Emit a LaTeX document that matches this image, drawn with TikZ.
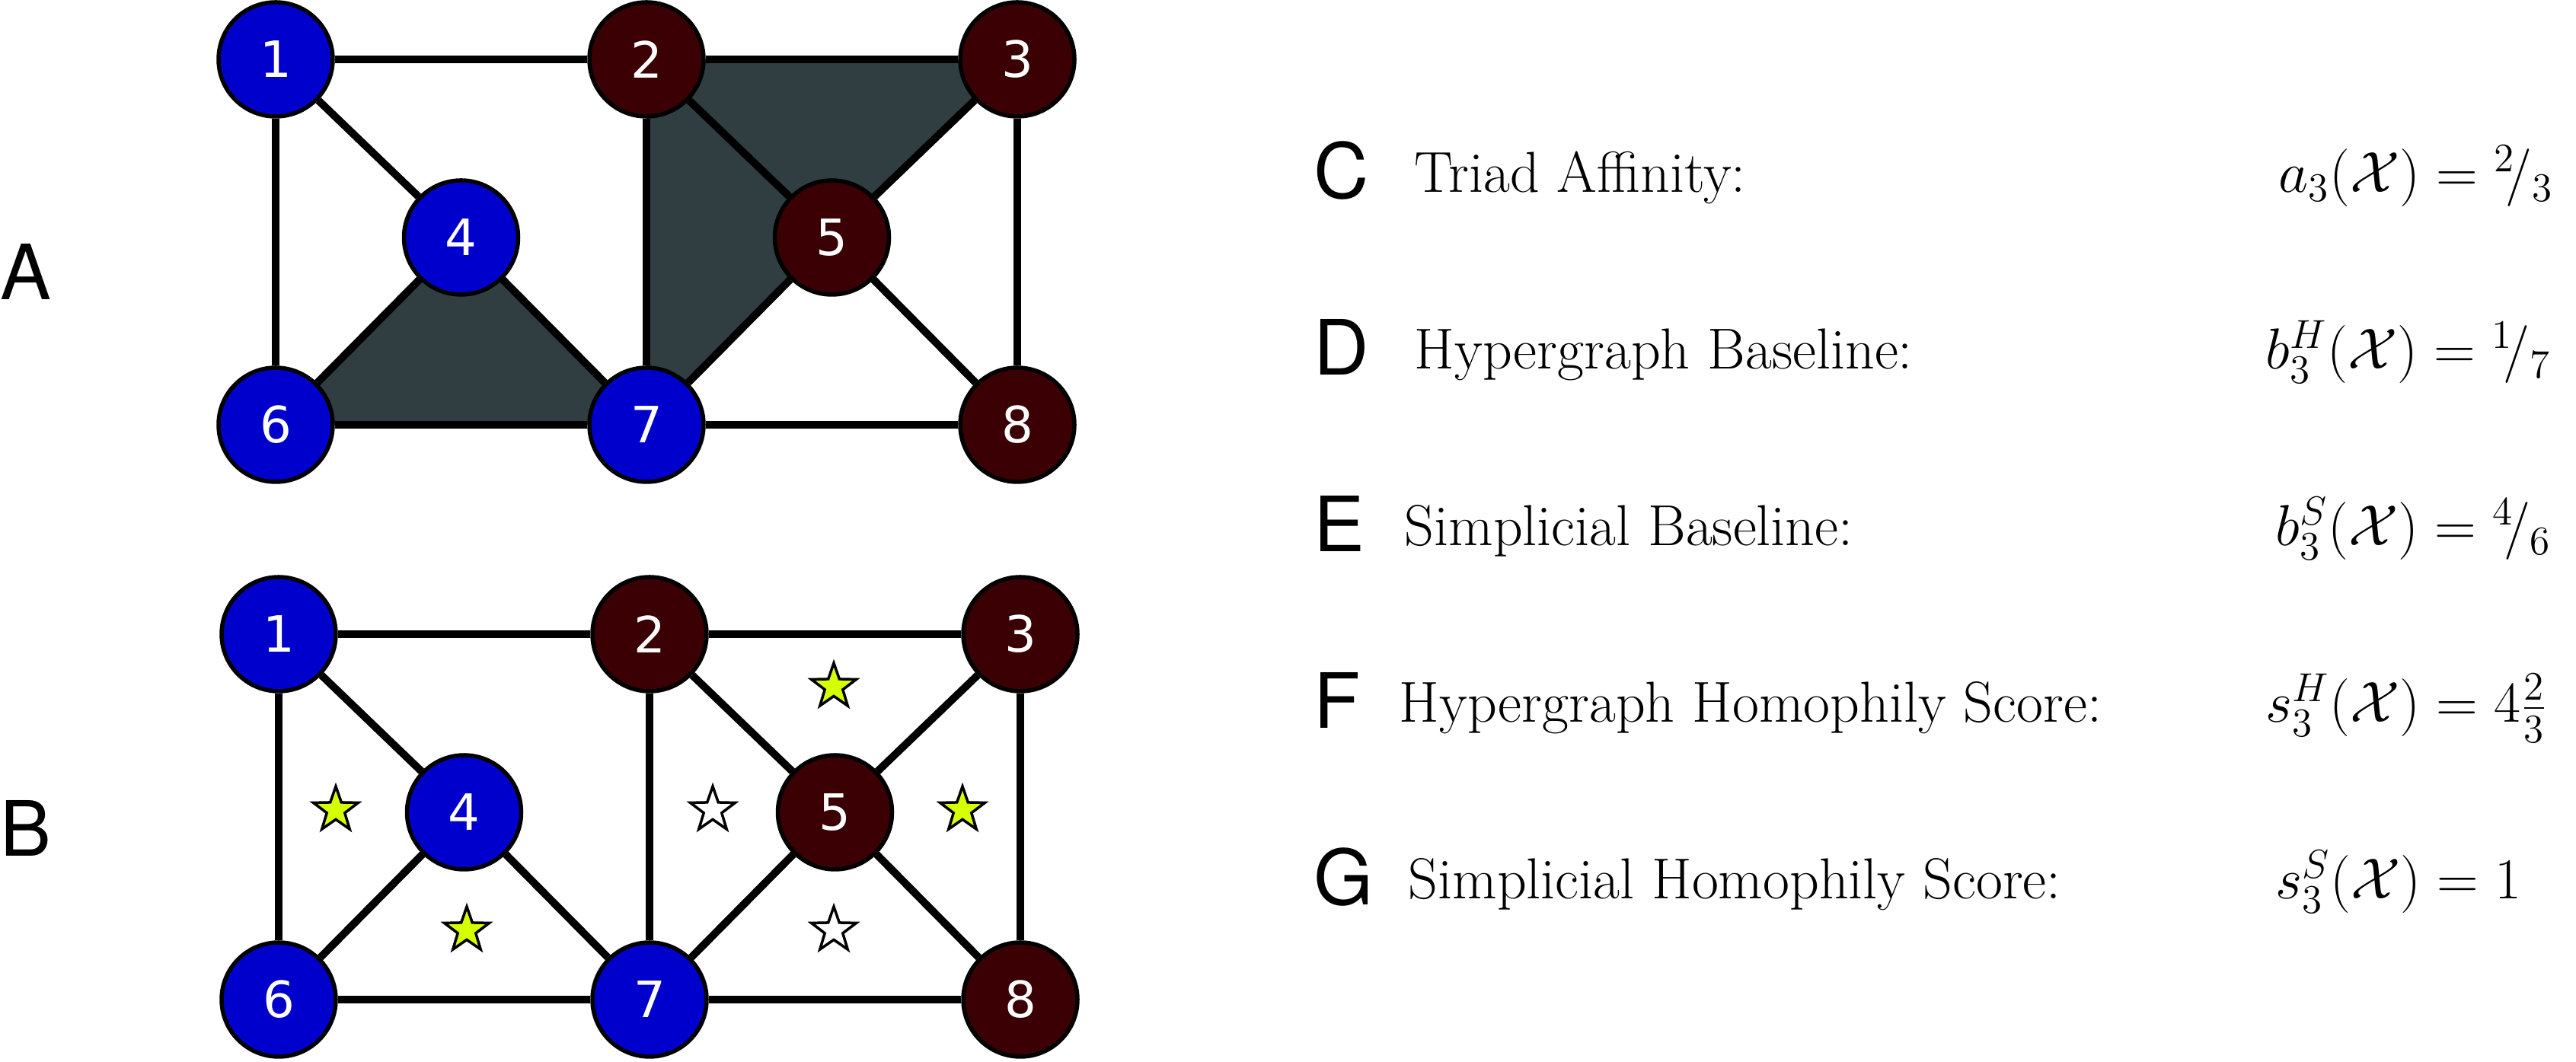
\documentclass[tikz,border=0pt]{standalone}
\usepackage{fix-cm}
\usepackage{fontspec}
\usetikzlibrary{shapes.geometric,backgrounds}
\newfontfamily\panelfont{TeX Gyre Heros}
\newfontfamily\vtxfont{DejaVu Sans}
\definecolor{vblue}{RGB}{0,0,204}
\definecolor{vred}{RGB}{58,0,4}
\definecolor{trifill}{RGB}{48,61,65}
\definecolor{staryellow}{RGB}{214,255,0}
\newcommand{\sfr}[2]{{}^{#1}\!/{}_{#2}}

\begin{document}
\begin{tikzpicture}[vtx/.style={shape=circle,draw=black,line width=0.055cm,minimum size=1.5cm,inner sep=0pt,text=white,font=\vtxfont\fontsize{18.7}{20}\selectfont},vtxB/.style={vtx,fill=vblue},vtxR/.style={vtx,fill=vred},link/.style={line width=0.1cm},tri/.style={fill=trifill},triad/.style={shape=star,star points=5,star point ratio=2.5,draw=black,line width=0.035cm,minimum size=0.62cm,inner sep=0pt},triadY/.style={triad,fill=staryellow},triadW/.style={triad,fill=white},panel/.style={anchor=base west,inner sep=0pt,font=\panelfont\fontsize{28.5}{30}\selectfont},stat/.style={anchor=base west,inner sep=0pt,font=\fontsize{21.6}{26}\selectfont}]
\def\dx{4.87};
\def\ya{13.17};
\def\yb{10.83};
\def\yc{8.37};
\def\yd{5.62};
\def\ye{3.28};
\def\yf{0.82};

\useasboundingbox (0,0) rectangle (33.83,13.95);

% A: hypergraph
\node[vtxB] (a1) at (3.62,\ya) {1};
\node[vtxR] (a2) at (3.62+\dx,\ya) {2};
\node[vtxR] (a3) at (3.62+2*\dx,\ya) {3};
\node[vtxB] (a4) at (3.62+0.5*\dx,\yb) {4};
\node[vtxR] (a5) at (3.62+1.5*\dx,\yb) {5};
\node[vtxB] (a6) at (3.62,\yc) {6};
\node[vtxB] (a7) at (3.62+\dx,\yc) {7};
\node[vtxR] (a8) at (3.62+2*\dx,\yc) {8};

\begin{pgfonlayer}{background}
\fill[tri] (a4.center) -- (a6.center) -- (a7.center) -- cycle;
\fill[tri] (a2.center) -- (a3.center) -- (a5.center) -- cycle;
\fill[tri] (a2.center) -- (a5.center) -- (a7.center) -- cycle;
\end{pgfonlayer}

\draw[link] (a1) -- (a2);
\draw[link] (a2) -- (a3);
\draw[link] (a1) -- (a6);
\draw[link] (a1) -- (a4);
\draw[link] (a4) -- (a6);
\draw[link] (a4) -- (a7);
\draw[link] (a6) -- (a7);
\draw[link] (a2) -- (a7);
\draw[link] (a2) -- (a5);
\draw[link] (a3) -- (a5);
\draw[link] (a5) -- (a7);
\draw[link] (a5) -- (a8);
\draw[link] (a3) -- (a8);
\draw[link] (a7) -- (a8);

% B: simplicial complex with closed triads
\node[vtxB] (b1) at (3.66,\yd) {1};
\node[vtxR] (b2) at (3.66+\dx,\yd) {2};
\node[vtxR] (b3) at (3.66+2*\dx,\yd) {3};
\node[vtxB] (b4) at (3.66+0.5*\dx,\ye) {4};
\node[vtxR] (b5) at (3.66+1.5*\dx,\ye) {5};
\node[vtxB] (b6) at (3.66,\yf) {6};
\node[vtxB] (b7) at (3.66+\dx,\yf) {7};
\node[vtxR] (b8) at (3.66+2*\dx,\yf) {8};

\draw[link] (b1) -- (b2);
\draw[link] (b2) -- (b3);
\draw[link] (b1) -- (b6);
\draw[link] (b1) -- (b4);
\draw[link] (b4) -- (b6);
\draw[link] (b4) -- (b7);
\draw[link] (b6) -- (b7);
\draw[link] (b2) -- (b7);
\draw[link] (b2) -- (b5);
\draw[link] (b3) -- (b5);
\draw[link] (b5) -- (b7);
\draw[link] (b5) -- (b8);
\draw[link] (b3) -- (b8);
\draw[link] (b7) -- (b8);

\node[triadY] (t146) at (4.41,3.31) {};
\node[triadY] (t467) at (6.13,1.73) {};
\node[triadY] (t235) at (10.95,4.93) {};
\node[triadY] (t358) at (12.64,3.31) {};
\node[triadW] (t257) at (9.36,3.31) {};
\node[triadW] (t578) at (10.95,1.73) {};

\node[panel] (pA) at (0,10.01) {A};
\node[panel] (pB) at (0,2.70) {B};

% scores
\node[panel] (pC) at (17.25,11.34) {C};
\node[stat] (tC) at (18.57,11.42) {Triad Affinity:};
\node[stat] (mC) at (29.92,11.42) {$a_3(\mathcal{X}) = \sfr{2}{3}$};

\node[panel] (pD) at (17.25,9.02) {D};
\node[stat] (tD) at (18.57,9.10) {Hypergraph Baseline:};
\node[stat] (mD) at (29.75,9.10) {$b_3^H(\mathcal{X}) = \sfr{1}{7}$};

\node[panel] (pE) at (17.25,6.70) {E};
\node[stat] (tE) at (18.44,6.78) {Simplicial Baseline:};
\node[stat] (mE) at (29.88,6.78) {$b_3^S(\mathcal{X}) = \sfr{4}{6}$};

\node[panel] (pF) at (17.25,4.38) {F};
\node[stat] (tF) at (18.37,4.46) {Hypergraph Homophily Score:};
\node[stat] (mF) at (29.75,4.46) {$s_3^H(\mathcal{X}) = 4\frac{2}{3}$};

\node[panel] (pG) at (17.25,2.06) {G};
\node[stat] (tG) at (18.49,2.14) {Simplicial Homophily Score:};
\node[stat] (mG) at (29.88,2.14) {$s_3^S(\mathcal{X}) = 1$};
\end{tikzpicture}
\end{document}
